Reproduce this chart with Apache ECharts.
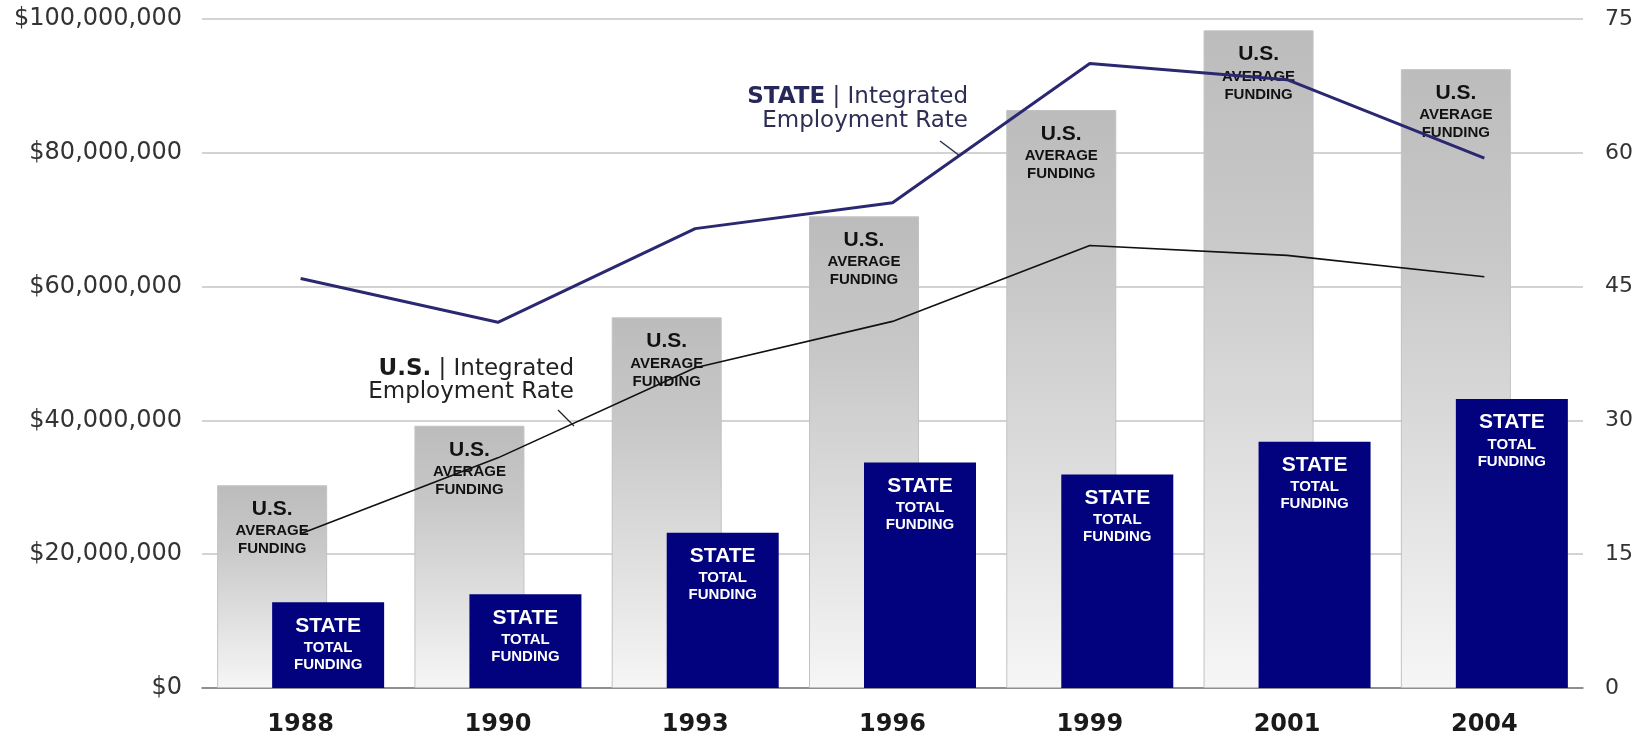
<!DOCTYPE html>
<html>
<head>
<meta charset="utf-8">
<script src="https://cdn.jsdelivr.net/npm/echarts@6/dist/echarts.min.js"></script>
<style>
html,body{margin:0;padding:0;background:#fff;}
#chart{width:1646px;height:737px;}
</style>
</head>
<body>
<div id="chart"></div>
<script>
// ---- data ----
const categories = ['1988', '1990', '1993', '1996', '1999', '2001', '2004'];
const usAverageFunding = [30300000, 39200000, 55400000, 70500000, 86400000, 98300000, 92500000];
const stateTotalFunding = [12800000, 14000000, 23200000, 33700000, 31900000, 36800000, 43200000];
const stateEmploymentRate = [45.9, 41.0, 51.5, 54.4, 70.0, 68.2, 59.4];
const usEmploymentRate = [17.3, 25.8, 35.9, 41.1, 49.6, 48.5, 46.1];
const leftTicks = [0, 20000000, 40000000, 60000000, 80000000, 100000000];
const rightTicks = [0, 15, 30, 45, 60, 75];

const chart = echarts.init(document.getElementById('chart'));

function money(v) {
  return '$' + String(v).replace(/\B(?=(\d{3})+(?!\d))/g, ',');
}

const option = {
  animation: false,
  backgroundColor: '#ffffff',
  grid: { left: 202, right: 63, top: 19, bottom: 49 },
  xAxis: {
    type: 'category',
    data: categories,
    axisLine: { lineStyle: { color: '#7a7a7a', width: 1.5 } },
    axisTick: { show: false },
    axisLabel: { margin: 25, fontFamily: 'DejaVu Sans', fontWeight: 'bold', fontSize: 24, color: '#1a1a1a' }
  },
  yAxis: [
    {
      type: 'value', min: leftTicks[0], max: leftTicks[leftTicks.length - 1], interval: 20000000,
      axisLine: { show: false }, axisTick: { show: false },
      splitLine: { lineStyle: { color: '#c4c4c4', width: 1.5 } },
      axisLabel: { margin: 20, fontFamily: 'DejaVu Sans', fontSize: 24, color: '#333', formatter: money }
    },
    {
      type: 'value', min: rightTicks[0], max: rightTicks[rightTicks.length - 1], interval: 15,
      axisLine: { show: false }, axisTick: { show: false },
      splitLine: { show: false },
      axisLabel: { margin: 22, fontFamily: 'DejaVu Sans', fontSize: 22, color: '#333' }
    }
  ],
  series: [
    {
      name: 'U.S. Average Funding', type: 'bar', data: usAverageFunding,
      barWidth: 110, barGap: '-50%',
      itemStyle: {
        color: new echarts.graphic.LinearGradient(0, 0, 0, 1, [
          { offset: 0, color: '#bcbcbc' },
          { offset: 0.3, color: '#c8c8c8' },
          { offset: 1, color: '#f6f6f6' }
        ]),
        borderColor: '#c2c2c2', borderWidth: 1
      },
      label: {
        show: true, position: 'insideTop', distance: 11,
        formatter: '{a|U.S.}\n{b|AVERAGE}\n{b|FUNDING}',
        rich: {
          a: { fontFamily: 'Liberation Sans', fontWeight: 'bold', fontSize: 21, color: '#111', lineHeight: 26, align: 'center' },
          b: { fontFamily: 'Liberation Sans', fontWeight: 'bold', fontSize: 15, color: '#111', lineHeight: 18, align: 'center' }
        }
      },
      z: 1
    },
    {
      name: 'State Total Funding', type: 'bar', data: stateTotalFunding,
      barWidth: 112,
      itemStyle: { color: '#02027f' },
      label: {
        show: true, position: 'insideTop', distance: 10,
        formatter: '{a|STATE}\n{b|TOTAL}\n{b|FUNDING}',
        rich: {
          a: { fontFamily: 'Liberation Sans', fontWeight: 'bold', fontSize: 21, color: '#ffffff', lineHeight: 27, align: 'center' },
          b: { fontFamily: 'Liberation Sans', fontWeight: 'bold', fontSize: 15, color: '#ffffff', lineHeight: 17, align: 'center' }
        }
      },
      z: 2
    },
    {
      name: 'U.S. Integrated Employment Rate', type: 'line', yAxisIndex: 1,
      data: usEmploymentRate, symbol: 'none',
      lineStyle: { color: '#111111', width: 1.6 }, z: 4
    },
    {
      name: 'STATE Integrated Employment Rate', type: 'line', yAxisIndex: 1,
      data: stateEmploymentRate, symbol: 'none',
      lineStyle: { color: '#2a2870', width: 3 }, z: 5
    }
  ],
  graphic: [
    {
      type: 'text', x: 968, y: 97, z: 10,
      style: {
        text: '{b|STATE}{r| | Integrated}', align: 'right', verticalAlign: 'middle',
        rich: {
          b: { fontFamily: 'DejaVu Sans', fontWeight: 'bold', fontSize: 23, fill: '#27275a' },
          r: { fontFamily: 'DejaVu Sans', fontSize: 23, fill: '#2e2e55' }
        }
      }
    },
    {
      type: 'text', x: 968, y: 121, z: 10,
      style: { text: 'Employment Rate', align: 'right', verticalAlign: 'middle', font: '23px "DejaVu Sans"', fill: '#2e2e55' }
    },
    { type: 'line', z: 10, shape: { x1: 940, y1: 141, x2: 960, y2: 156 }, style: { stroke: '#2e2e55', lineWidth: 1.5 } },
    {
      type: 'text', x: 574, y: 369, z: 10,
      style: {
        text: '{b|U.S.}{r| | Integrated}', align: 'right', verticalAlign: 'middle',
        rich: {
          b: { fontFamily: 'DejaVu Sans', fontWeight: 'bold', fontSize: 23, fill: '#1a1a1a' },
          r: { fontFamily: 'DejaVu Sans', fontSize: 23, fill: '#222' }
        }
      }
    },
    {
      type: 'text', x: 574, y: 392, z: 10,
      style: { text: 'Employment Rate', align: 'right', verticalAlign: 'middle', font: '23px "DejaVu Sans"', fill: '#222' }
    },
    { type: 'line', z: 10, shape: { x1: 558, y1: 410, x2: 574, y2: 426 }, style: { stroke: '#222', lineWidth: 1.3 } }
  ]
};
chart.setOption(option);
</script>
</body>
</html>
